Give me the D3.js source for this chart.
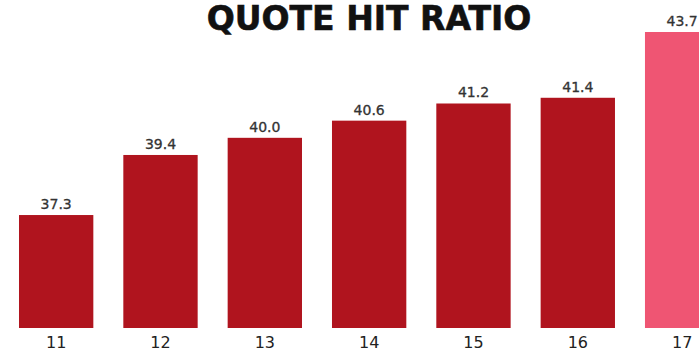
<!DOCTYPE html>
<html>
<head>
<meta charset="utf-8">
<script src="https://cdn.jsdelivr.net/npm/d3@7"></script>
<style>
  html, body { margin: 0; padding: 0; background: #fff; overflow: hidden; }
  svg { display: block; }
</style>
</head>
<body>
<script>
// Quote hit ratio by period
const categories = ["11", "12", "13", "14", "15", "16", "17"];
const values = [37.3, 39.4, 40.0, 40.6, 41.2, 41.4, 43.7];
const highlight = ["17"];
const title = "QUOTE HIT RATIO";

const width = 699, height = 351;
const baseY = 328, topY = 32;

const svg = d3.select("body").append("svg")
  .attr("width", width)
  .attr("height", height);

const x = d3.scaleBand()
  .domain(categories)
  .range([4, 734.3])
  .paddingInner(0.2875)
  .paddingOuter(0.14375);

const y = d3.scaleLinear()
  .domain([33.35, d3.max(values)])
  .range([baseY, topY]);

const data = categories.map((c, i) => ({ c, v: values[i] }));

svg.append("text")
  .attr("x", 369)
  .attr("y", 30)
  .attr("text-anchor", "middle")
  .attr("font-family", "'DejaVu Sans', sans-serif")
  .attr("font-weight", 700)
  .attr("font-size", 33)
  .attr("fill", "#111")
  .attr("stroke", "#111")
  .attr("stroke-width", 0.6)
  .text(title);

svg.append("g").selectAll("rect")
  .data(data)
  .join("rect")
  .attr("x", d => x(d.c))
  .attr("width", x.bandwidth())
  .attr("y", d => y(d.v))
  .attr("height", d => baseY - y(d.v))
  .attr("fill", d => highlight.includes(d.c) ? "#EF5573" : "#B0141E");

svg.append("g").selectAll("text")
  .data(data)
  .join("text")
  .attr("x", d => x(d.c) + x.bandwidth() / 2)
  .attr("y", d => y(d.v) - 6)
  .attr("text-anchor", "middle")
  .attr("font-family", "'DejaVu Sans', sans-serif")
  .attr("font-weight", 500)
  .attr("font-size", 14)
  .attr("fill", "#333")
  .attr("stroke", "#333")
  .attr("stroke-width", 0.3)
  .text(d => d.v.toFixed(1));

const axis = d3.axisBottom(x).tickSize(0);
const gx = svg.append("g")
  .attr("transform", `translate(0,${baseY})`)
  .call(axis);
gx.select(".domain").remove();
gx.selectAll("text")
  .attr("y", 20)
  .attr("dy", null)
  .attr("font-family", "'DejaVu Sans', sans-serif")
  .attr("font-size", 16)
  .attr("fill", "#222");
</script>
</body>
</html>
